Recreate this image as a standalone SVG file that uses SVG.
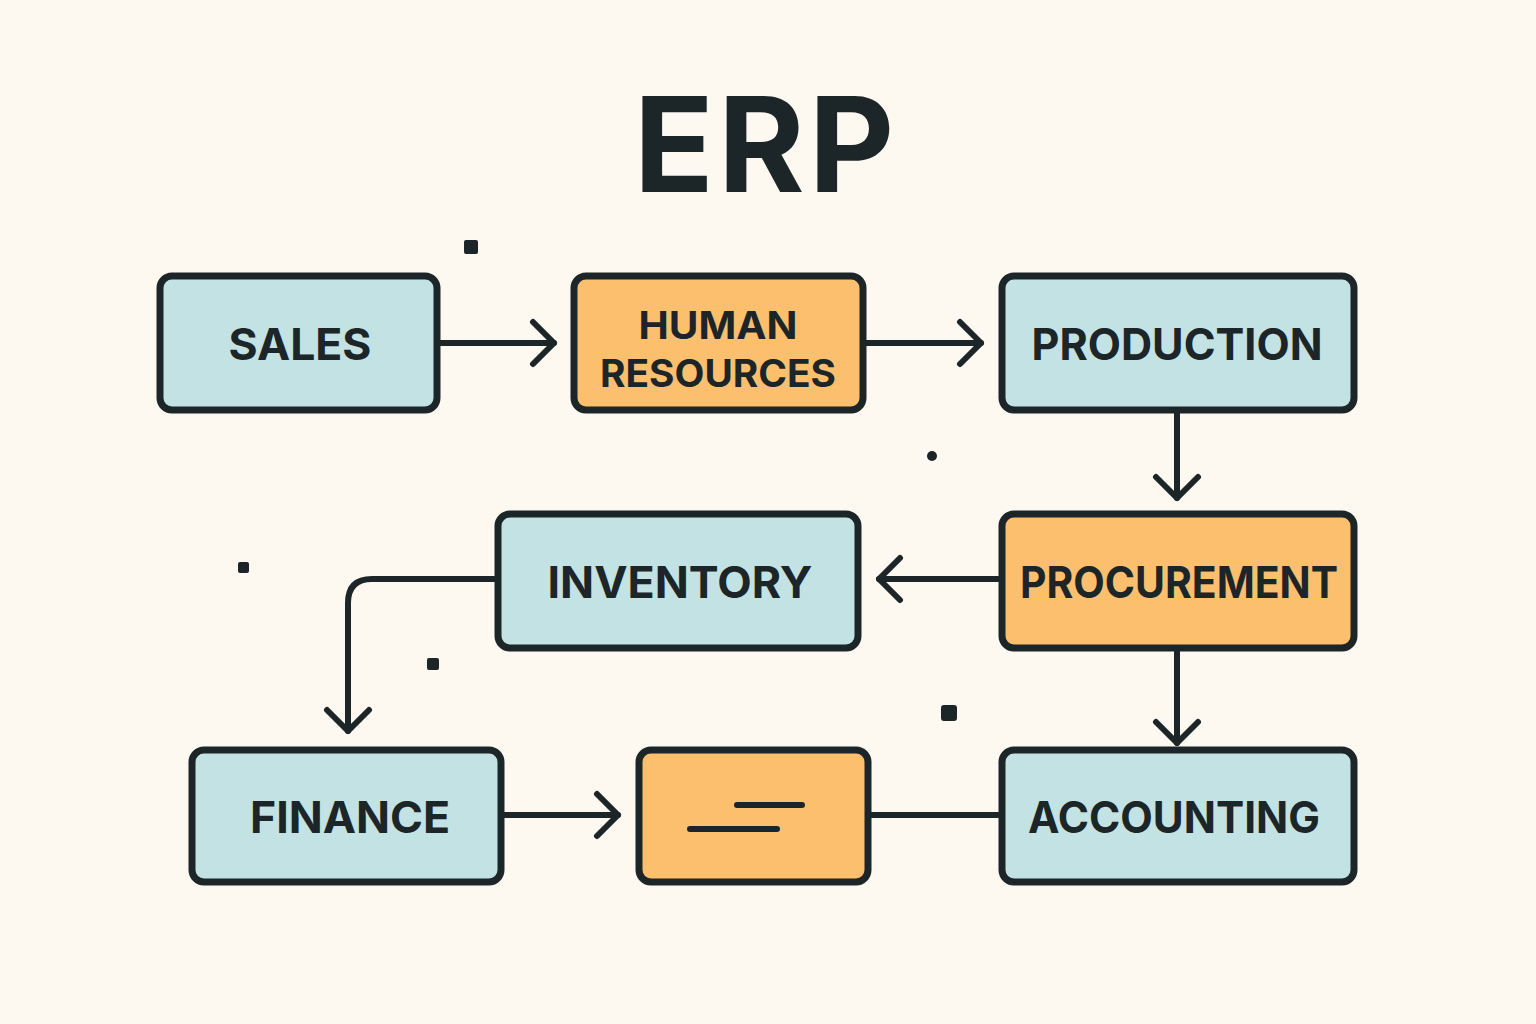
<svg xmlns="http://www.w3.org/2000/svg" width="1536" height="1024" viewBox="0 0 1536 1024">
<defs>
<style>
.box{stroke:#1c2628;stroke-width:7;}
.blue{fill:#c3e2e3;}
.orange{fill:#fbbf6e;}
.lbl{font-family:Inter,"Liberation Sans",sans-serif;font-weight:700;font-size:44px;fill:#1c2628;text-anchor:middle;}
.lbl2{font-size:38px;}
.conn{fill:none;stroke:#1c2628;stroke-width:6;stroke-linecap:round;stroke-linejoin:round;}
.dot{fill:#1c2628;}
</style>
<marker id="chev" viewBox="-26 -26 30 52" markerWidth="30" markerHeight="52" refX="0" refY="0" orient="auto" markerUnits="userSpaceOnUse">
<path d="M-21,-21 L0,0 L-21,21" fill="none" stroke="#1c2628" stroke-width="6" stroke-linecap="round" stroke-linejoin="round"/>
</marker>
</defs>
<rect width="1536" height="1024" fill="#fdf9f0"/>
<text x="766" y="192" font-family="Inter,'Liberation Sans',sans-serif" font-weight="700" font-size="132" fill="#1c2628" text-anchor="middle" letter-spacing="4">ERP</text>

<g id="connectors">
<path class="conn" d="M440,343 L554,343" marker-end="url(#chev)"/>
<path class="conn" d="M866,343 L981,343" marker-end="url(#chev)"/>
<path class="conn" d="M1177,413 L1177,498" marker-end="url(#chev)"/>
<path class="conn" d="M998,579 L879,579" marker-end="url(#chev)"/>
<path class="conn" d="M494,579 L372,579 Q348,579 348,603 L348,731" marker-end="url(#chev)"/>
<path class="conn" d="M504,815 L618,815" marker-end="url(#chev)"/>
<path class="conn" d="M1177,651 L1177,743" marker-end="url(#chev)"/>
<path class="conn" d="M871,815 L998,815"/>
</g>

<g id="sales"><rect class="box blue" x="160" y="276" width="277" height="134" rx="12"/><text class="lbl" x="300" y="360" textLength="143" lengthAdjust="spacingAndGlyphs">SALES</text></g>
<g id="hr"><rect class="box orange" x="574" y="276" width="289" height="134" rx="12"/><text class="lbl lbl2" x="718" y="339" textLength="159" lengthAdjust="spacingAndGlyphs">HUMAN</text><text class="lbl lbl2" x="718" y="387" textLength="236" lengthAdjust="spacingAndGlyphs">RESOURCES</text></g>
<g id="production"><rect class="box blue" x="1002" y="276" width="352" height="134" rx="12"/><text class="lbl" x="1177" y="360" textLength="291" lengthAdjust="spacingAndGlyphs">PRODUCTION</text></g>
<g id="inventory"><rect class="box blue" x="498" y="514" width="360" height="134" rx="12"/><text class="lbl" x="680" y="598" textLength="265" lengthAdjust="spacingAndGlyphs">INVENTORY</text></g>
<g id="procurement"><rect class="box orange" x="1002" y="514" width="352" height="134" rx="12"/><text class="lbl" x="1179" y="598" textLength="318" lengthAdjust="spacingAndGlyphs">PROCUREMENT</text></g>
<g id="finance"><rect class="box blue" x="192" y="750" width="309" height="132" rx="12"/><text class="lbl" x="350" y="833" textLength="200" lengthAdjust="spacingAndGlyphs">FINANCE</text></g>
<g id="blank"><rect class="box orange" x="639" y="750" width="229" height="132" rx="12"/><path class="conn" d="M737,805 L802,805 M690,829 L777,829"/></g>
<g id="accounting"><rect class="box blue" x="1002" y="750" width="352" height="132" rx="12"/><text class="lbl" x="1174" y="833" textLength="292" lengthAdjust="spacingAndGlyphs">ACCOUNTING</text></g>

<g id="dots">
<rect class="dot" x="464" y="240" width="14" height="14" rx="2"/>
<circle class="dot" cx="932" cy="456" r="5"/>
<rect class="dot" x="238" y="562" width="11" height="11" rx="2"/>
<rect class="dot" x="427" y="658" width="12" height="12" rx="2"/>
<rect class="dot" x="941" y="705" width="16" height="16" rx="3"/>
</g>
</svg>
